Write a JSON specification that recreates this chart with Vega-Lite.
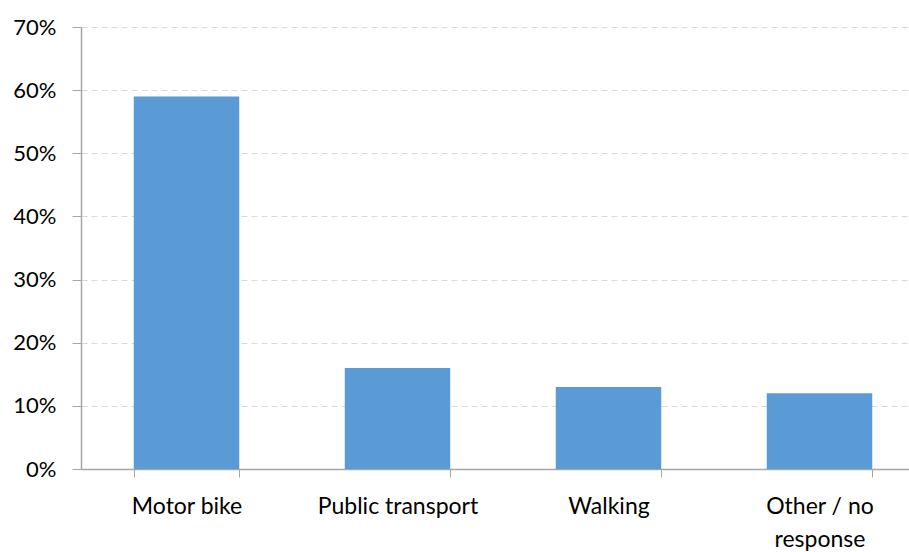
{
  "$schema": "https://vega.github.io/schema/vega-lite/v6.json",
  "width": 844,
  "height": 442,
  "autosize": {"type": "none"},
  "padding": {"left": 81, "top": 27, "right": -16, "bottom": 83},
  "background": "white",
  "data": {
    "values": [
      {"mode": "Motor bike", "share": 0.59},
      {"mode": "Public transport", "share": 0.16},
      {"mode": "Walking", "share": 0.13},
      {"mode": "Other / no response", "share": 0.12}
    ]
  },
  "mark": {"type": "bar", "color": "#5B9BD5"},
  "encoding": {
    "x": {
      "field": "mode",
      "type": "nominal",
      "sort": null,
      "scale": {"paddingInner": 0.5, "paddingOuter": 0.25},
      "axis": {
        "title": null,
        "labelAngle": 0,
        "labelFont": "Lato",
        "labelFontSize": 23,
        "labelColor": "#000000",
        "labelPadding": 18,
        "labelLineHeight": 33,
        "labelExpr": "datum.label == 'Other / no response' ? ['Other / no', 'response'] : datum.label",
        "tickBand": "extent",
        "tickSize": 8,
        "tickColor": "#a6a6a6",
        "domainColor": "#a6a6a6",
        "domainWidth": 1.5,
        "grid": false
      }
    },
    "y": {
      "field": "share",
      "type": "quantitative",
      "scale": {"domain": [0, 0.7], "nice": false},
      "axis": {
        "title": null,
        "format": ".0%",
        "values": [0, 0.1, 0.2, 0.3, 0.4, 0.5, 0.6, 0.7],
        "labelFont": "Lato",
        "labelFontSize": 22,
        "labelColor": "#000000",
        "labelPadding": 16,
        "tickSize": 9,
        "tickColor": "#a6a6a6",
        "domainColor": "#a6a6a6",
        "domainWidth": 1.5,
        "grid": true,
        "gridColor": "#d9d9d9",
        "gridDash": [6, 4]
      }
    }
  },
  "config": {"view": {"stroke": null}}
}
